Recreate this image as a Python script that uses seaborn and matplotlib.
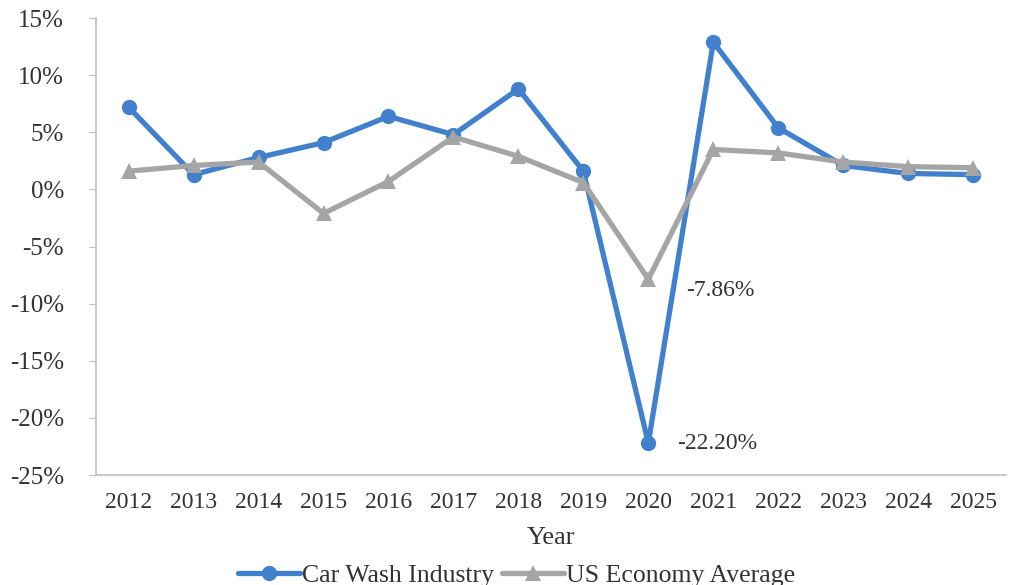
import pandas as pd
import matplotlib.pyplot as plt
import seaborn as sns
from matplotlib.ticker import FuncFormatter

years = list(range(2012, 2026))
car_wash = [7.2, 1.3, 2.8, 4.1, 6.4, 4.8, 8.8, 1.6, -22.2, 12.9, 5.4, 2.1, 1.4, 1.3]
us_economy = [1.6, 2.1, 2.4, -2.1, 0.7, 4.6, 2.9, 0.6, -7.86, 3.5, 3.2, 2.4, 2.0, 1.9]
series_names = ['Car Wash Industry', 'US Economy Average']

df = pd.DataFrame({
    'Year': years * 2,
    'Growth': car_wash + us_economy,
    'Series': [series_names[0]] * len(years) + [series_names[1]] * len(years),
})

sns.set_style('white')
plt.rcParams['font.family'] = ['Liberation Serif', 'DejaVu Serif']

fig = plt.figure(figsize=(10.23, 5.85), dpi=100)
ax = fig.add_axes([0.094, 0.188, 0.889, 0.781])

palette = {series_names[0]: '#4080CC', series_names[1]: '#A5A5A5'}
markers = {series_names[0]: 'o', series_names[1]: '^'}
sns.lineplot(data=df, x='Year', y='Growth', hue='Series', style='Series',
             palette=palette, markers=markers, dashes=False, linewidth=3.8,
             markersize=11, markeredgewidth=0, ax=ax)

ax.set_xlim(2011.5, 2025.5)
ax.set_ylim(-25, 15)
ax.set_xticks(years)
ax.set_xticklabels([str(y) for y in years], fontsize=17, color='#333333')
ax.set_yticks(range(-25, 16, 5))
ax.yaxis.set_major_formatter(FuncFormatter(lambda v, p: f'{int(v)}%'))
ax.tick_params(axis='y', labelsize=18, colors='#333333', length=5, color='#BFBFBF',
               direction='out', left=True, pad=18)
ax.tick_params(axis='x', length=0, pad=12)

for side in ['top', 'right']:
    ax.spines[side].set_visible(False)
for side in ['left', 'bottom']:
    ax.spines[side].set_color('#BFBFBF')
    ax.spines[side].set_linewidth(1.2)

ax.set_xlabel('Year', fontsize=19, color='#333333', labelpad=10)
ax.set_ylabel('')

i2020 = years.index(2020)
ax.annotate(f'{us_economy[i2020]:.2f}%', (2020, us_economy[i2020]), xytext=(27, -8),
            textcoords='offset points', fontsize=17, color='#333333', va='center')
ax.annotate(f'{car_wash[i2020]:.2f}%', (2020, car_wash[i2020]), xytext=(21, 0),
            textcoords='offset points', fontsize=17, color='#333333', va='center')

handles, labels = ax.get_legend_handles_labels()
ax.legend(handles, labels, loc='lower center', bbox_to_anchor=(0.505, -0.003),
          bbox_transform=fig.transFigure, ncol=2, frameon=False,
          fontsize=18.5, handlelength=2.4, handletextpad=0.1, columnspacing=0.3,
          labelcolor='#333333', borderaxespad=0, borderpad=0)

fig.savefig('out.png', dpi=100)
